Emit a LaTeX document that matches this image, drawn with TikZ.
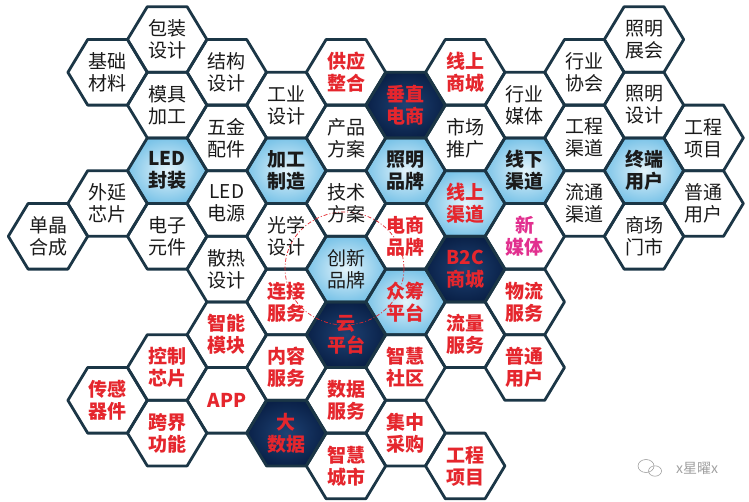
\documentclass[tikz,border=0pt]{standalone}
\usepackage{fontspec}
\setmainfont{Noto Sans CJK SC}
\definecolor{hexline}{HTML}{1B3646}
\definecolor{hred}{HTML}{E5262D}
\definecolor{hmag}{HTML}{E2308F}
\definecolor{htxt}{HTML}{1A1A1A}
\definecolor{blueIn}{HTML}{E4F4FB}
\definecolor{blueOut}{HTML}{7CC4E8}
\definecolor{navyIn}{HTML}{1E4274}
\definecolor{navyOut}{HTML}{0A2148}
\definecolor{wmgray}{HTML}{A0A0A0}
\newcommand\hexlist{%
0/3/kw/tk/dj/{单晶\\合成},
1/0/kw/tk/jc/{基础\\材料},
1/2/kw/tk/wy/{外延\\芯片},
1/5/kw/tr/cg/{传感\\器件},
2/0/kw/tk/bz/{包装\\设计},
2/1/kw/tk/mj/{模具\\加工},
2/2/kb/tb/fz/{LED\\封装},
2/3/kw/tk/dz/{电子\\元件},
2/5/kw/tr/kz/{控制\\芯片},
2/6/kw/tr/kj/{跨界\\功能},
3/0/kw/tk/jg/{结构\\设计},
3/1/kw/tk/wj/{五金\\配件},
3/2/kw/tk/dy/{LED\\电源},
3/3/kw/tk/sr/{散热\\设计},
3/4/kw/tr/zn/{智能\\模块},
3/5/kw/tr/app/{APP},
4/1/kw/tk/gy/{工业\\设计},
4/2/kb/tb/jgzz/{加工\\制造},
4/3/kw/tk/gx/{光学\\设计},
4/4/kw/tr/lj/{连接\\服务},
4/5/kw/tr/nr/{内容\\服务},
4/6/kd/tr/dsj/{大\\数据},
5/0/kw/tr/gyzh/{供应\\整合},
5/1/kw/tk/cp/{产品\\方案},
5/2/kw/tk/js/{技术\\方案},
5/3/kb/tk/cx/{创新\\品牌},
5/4/kd/tr/ypt/{云\\平台},
5/5/kw/tr/sj/{数据\\服务},
5/6/kw/tr/zhcs/{智慧\\城市},
6/1/kd/tr/czds/{垂直\\电商},
6/2/kb/tb/zmpp/{照明\\品牌},
6/3/kw/tr/dspp/{电商\\品牌},
6/4/kb/tr/zc/{众筹\\平台},
6/5/kw/tr/zhsq/{智慧\\社区},
6/6/kw/tr/jz/{集中\\采购},
7/0/kw/tr/xssc/{线上\\商城},
7/1/kw/tk/sctg/{市场\\推广},
7/2/kb/tr/xsqd/{线上\\渠道},
7/3/kd/tr/b2c/{B2C\\商城},
7/4/kw/tr/ll/{流量\\服务},
7/6/kw/tr/gcxm/{工程\\项目},
8/1/kw/tk/hymt/{行业\\媒体},
8/2/kb/tb/xxqd/{线下\\渠道},
8/3/kw/tm/xmt/{新\\媒体},
8/4/kw/tr/wl/{物流\\服务},
8/5/kw/tr/pt/{普通\\用户},
9/0/kw/tk/hyxh/{行业\\协会},
9/1/kw/tk/gcqd/{工程\\渠道},
9/2/kw/tk/ltqd/{流通\\渠道},
10/0/kw/tk/zmzh/{照明\\展会},
10/1/kw/tk/zmsj/{照明\\设计},
10/2/kb/tb/zdyh/{终端\\用户},
10/3/kw/tk/scms/{商场\\门市},
11/1/kw/tk/gcxmb/{工程\\项目},
11/2/kw/tk/ptyh/{普通\\用户}}
\begin{document}
\begin{tikzpicture}[x=1pt,y=-1pt,
  kw/.style={fill=white},
  kb/.style={inner color=blueIn, outer color=blueOut},
  kd/.style={inner color=navyIn, outer color=navyOut},
  hexedge/.style={draw=hexline, line width=2.8pt, line join=round},
  lbl/.style={align=center, inner sep=0pt, font=\fontsize{19}{22}\selectfont},
  tk/.style={text=htxt},
  tb/.style={text=htxt, font=\fontsize{19}{22}\selectfont\bfseries},
  tr/.style={text=hred, font=\fontsize{19}{22}\selectfont\bfseries},
  tm/.style={text=hmag, font=\fontsize{19}{22}\selectfont\bfseries},
  dashring/.style={draw=hred, line width=0.7pt, dash pattern=on 4pt off 2pt on 1pt off 2pt},
  wm/.style={text=wmgray, font=\fontsize{14}{16}\selectfont, inner sep=0pt}
]
\useasboundingbox (0,0) rectangle (749,501);
% fills
\foreach \cI/\rI/\kI/\fI/\nI/\tI in \hexlist {
  \pgfmathsetmacro\X{48+59.6*\cI}
  \pgfmathsetmacro\Y{39.5+32.8*mod(\cI,2)+65.6*\rI}
  \path[\kI, shift={(\X,\Y)}] (-39.7,0) -- (-19.9,-32.8) -- (19.9,-32.8) -- (39.7,0) -- (19.9,32.8) -- (-19.9,32.8) -- cycle;
}
% edges
\foreach \cI/\rI/\kI/\fI/\nI/\tI in \hexlist {
  \pgfmathsetmacro\X{48+59.6*\cI}
  \pgfmathsetmacro\Y{39.5+32.8*mod(\cI,2)+65.6*\rI}
  \path[hexedge, shift={(\X,\Y)}] (-39.7,0) -- (-19.9,-32.8) -- (19.9,-32.8) -- (39.7,0) -- (19.9,32.8) -- (-19.9,32.8) -- cycle;
}
% dashed ring
\coordinate (ringc) at (344.5,268.5);
\draw[dashring] (ringc) ellipse [x radius=59.5, y radius=56.5];
% labels
\foreach \cI/\rI/\kI/\fI/\nI/\tI in \hexlist {
  \pgfmathsetmacro\X{48+59.6*\cI}
  \pgfmathsetmacro\Y{39.5+32.8*mod(\cI,2)+65.6*\rI}
  \node[lbl, \fI] (\nI) at (\X,\Y) {\tI};
}
% watermark
\draw[wmgray, line width=0.6pt] (646,466) ellipse [x radius=8, y radius=6.5];
\draw[wmgray, line width=0.6pt] (655,471) ellipse [x radius=6.5, y radius=5.2];
\node[wm] (wmtext) at (697,468) {x星曜x};
\end{tikzpicture}
\end{document}
